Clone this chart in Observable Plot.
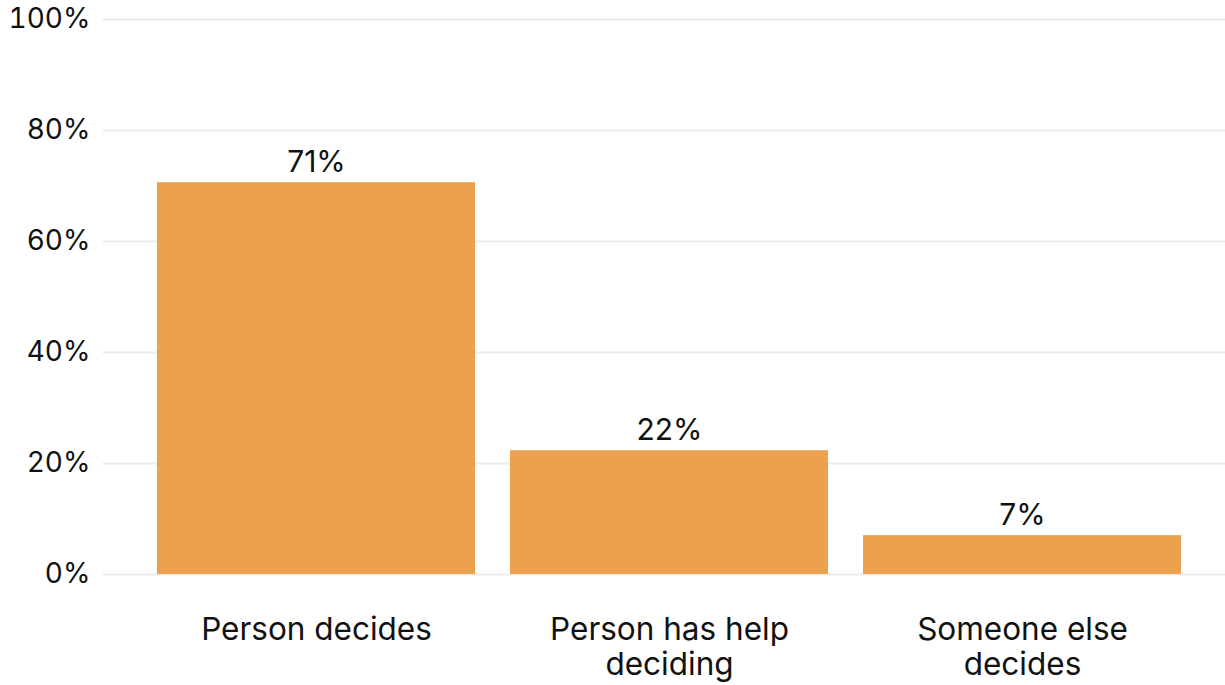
<!DOCTYPE html>
<html>
<head>
<meta charset="utf-8">
<script src="https://cdn.jsdelivr.net/npm/d3@7"></script>
<script src="https://cdn.jsdelivr.net/npm/@observablehq/plot@0.6"></script>
<style>
  html, body { margin: 0; padding: 0; background: #fff; }
  #chart svg { display: block; }
</style>
</head>
<body>
<div id="chart"></div>
<script>
const categories = ["Person decides", "Person has help\ndeciding", "Someone else\ndecides"];
const values = [70.6, 22.3, 7.0];
const valueLabels = ["71%", "22%", "7%"];
const yTicks = [0, 20, 40, 60, 80, 100];

const data = categories.map((c, i) => ({category: c, value: values[i], label: valueLabels[i]}));

const font = "Inter, 'Noto Sans', sans-serif";

const chart = Plot.plot({
  width: 1225,
  height: 685,
  marginLeft: 103,
  marginRight: 0,
  marginTop: 19,
  marginBottom: 111,
  style: {fontFamily: font, fontSize: "28px", color: "#111", background: "#fff"},
  x: {domain: categories, range: [139, 1198], paddingInner: 0.1, paddingOuter: 0.05, label: null},
  y: {domain: [0, 100], label: null},
  marks: [
    Plot.ruleY(yTicks, {stroke: "#ebebeb", strokeWidth: 2}),
    Plot.barY(data, {x: "category", y: "value", fill: "#eba14e"}),
    Plot.text(data, {x: "category", y: "value", text: "label", dy: -20, fontSize: 30, fill: "#111"}),
    Plot.axisY(yTicks, {tickSize: 0, tickPadding: 13, tickFormat: d => d + "%", fontSize: 28, fill: "#111"}),
    Plot.axisX({tickSize: 0, tickPadding: 40, lineAnchor: "top", lineHeight: 1.12, fontSize: 31.5, fill: "#111"})
  ]
});
document.getElementById("chart").appendChild(chart);
</script>
</body>
</html>
